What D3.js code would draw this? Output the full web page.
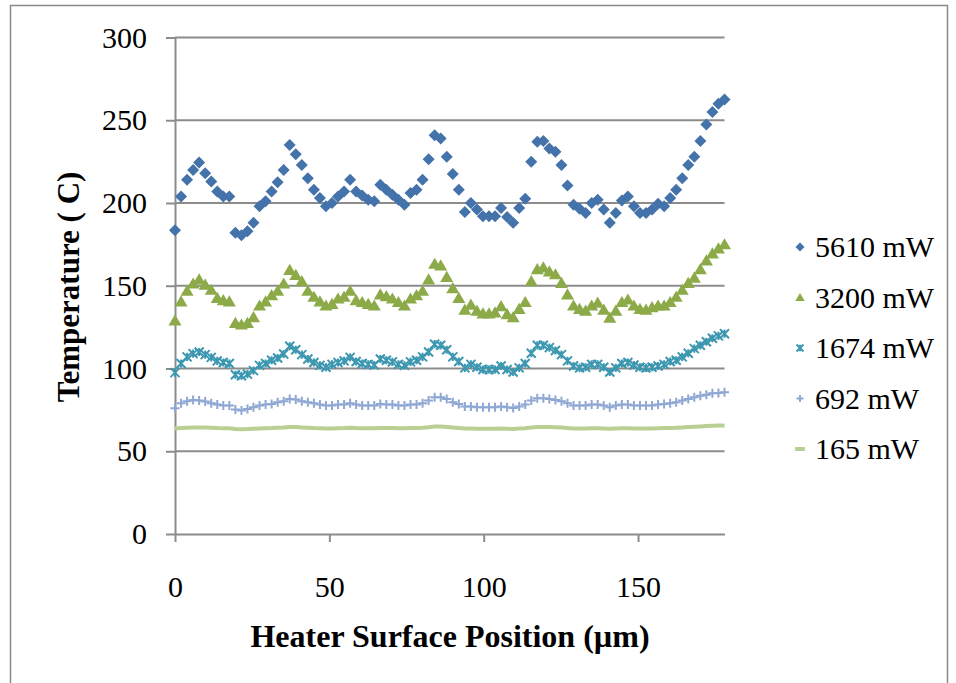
<!DOCTYPE html>
<html>
<head>
<meta charset="utf-8">
<script src="https://cdn.jsdelivr.net/npm/d3@7"></script>
<style>
  body { margin: 0; background: #fff; }
  svg text { font-family: "Liberation Serif", "Times New Roman", serif; fill: #000; }
</style>
</head>
<body>
<div id="chart"></div>
<script>
// Heater surface temperature profiles for five heater powers

// Positions along the heater surface (um)
const positions = [0, 1.96, 3.91, 5.87, 7.82, 9.78, 11.74, 13.69, 15.65, 17.6,
    19.56, 21.52, 23.47, 25.43, 27.38, 29.34, 31.3, 33.25, 35.21, 37.16,
    39.12, 41.08, 43.03, 44.99, 46.95, 48.9, 50.86, 52.81, 54.77, 56.73,
    58.68, 60.64, 62.59, 64.55, 66.51, 68.46, 70.42, 72.37, 74.33, 76.29,
    78.24, 80.2, 82.15, 84.11, 86.07, 88.02, 89.98, 91.93, 93.89, 95.85,
    97.8, 99.76, 101.71, 103.67, 105.63, 107.58, 109.54, 111.49, 113.45, 115.41,
    117.36, 119.32, 121.27, 123.23, 125.19, 127.14, 129.1, 131.05, 133.01, 134.97,
    136.92, 138.88, 140.84, 142.79, 144.75, 146.7, 148.66, 150.62, 152.57, 154.53,
    156.48, 158.44, 160.4, 162.35, 164.31, 166.26, 168.22, 170.18, 172.13, 174.09,
    176.04, 178];

// Temperatures (C)
const t5610 = [183.5, 204, 214, 220, 224.5, 218, 213, 207, 204, 204,
    182, 180.5, 183, 188, 198, 201, 207, 212.5, 220, 235,
    229.5, 223, 215, 208, 203, 198, 200, 204, 207, 214,
    207, 204.5, 202, 201, 211, 208, 205, 202, 199, 206,
    208, 214, 226.5, 241, 239, 228, 217.5, 208, 194.5, 200,
    196, 192, 192, 192, 197, 191.5, 188, 197, 202.5, 225,
    237, 237.5, 233, 231, 223, 210.5, 199, 196.5, 194, 200,
    202, 196, 188, 194, 201.5, 204, 198, 194, 194, 196,
    199.5, 198, 203, 208, 215, 223, 228, 237.5, 247.5, 255,
    260, 262.5];

const t3200 = [129, 140.5, 146.9, 151.3, 153.8, 150.6, 147.5, 142.6, 141.2, 140.5,
    127.5, 126.5, 127.5, 131, 138, 140.5, 144.3, 146.9, 151.3, 159.5,
    156.5, 152.7, 146.9, 143.3, 140.5, 138, 139, 142.2, 143.3, 146.9,
    141.2, 140.1, 139, 138, 144.7, 143.7, 142.2, 140.1, 138, 142.2,
    144.3, 146.9, 153.8, 163.2, 162.2, 155.3, 148.5, 142.6, 135.5, 138.5,
    134.9, 133.2, 133.2, 133.8, 137.6, 132.8, 131, 136, 140.1, 152.7,
    160, 161, 158.6, 156.9, 151.7, 144.7, 138, 136, 134.9, 138,
    139.7, 135.5, 130.7, 134.9, 140.1, 141.6, 138, 136, 135.5, 137,
    138, 138, 140.1, 143.3, 147.5, 151.7, 154.8, 160, 165.3, 169.5,
    172.5, 175];

const t1674 = [97.5, 103, 107, 109, 110, 108.4, 106.7, 104.6, 103.6, 103,
    96.2, 95.6, 96.6, 98.7, 101.9, 103, 105, 106.3, 108.8, 113.4,
    111.3, 108.4, 105.7, 103.6, 101.9, 100.8, 102.5, 103.6, 104.6, 106.7,
    104.2, 103, 102.5, 102.1, 105.7, 105, 104, 102.5, 101.9, 104,
    105, 107, 110, 114.7, 114, 111.3, 107, 104.2, 100.4, 102.5,
    100.8, 99.4, 99.4, 99.4, 101.5, 99.4, 97.9, 100.4, 103, 109.2,
    114, 114, 112.6, 110.9, 108.4, 104.6, 101.5, 100.4, 100.8, 102.5,
    102.5, 100.8, 97.9, 100.4, 103, 103.6, 102.1, 100.8, 100.4, 100.8,
    101.5, 102.5, 104.2, 105, 107, 109.2, 112, 114, 116.2, 118.3,
    119.7, 121];

const t692 = [76, 79, 80.2, 81, 80.6, 80, 79, 78.2, 77.6, 77.6,
    75.2, 74.6, 75.6, 76.6, 77.6, 78.2, 78.6, 79.6, 80.2, 81.6,
    81.2, 80.2, 79.6, 79, 78.2, 77.6, 77.6, 78.2, 78.2, 79,
    78.2, 77.6, 77.6, 77.6, 78.6, 78.2, 78.2, 77.6, 77.6, 78.2,
    78.2, 79, 80.6, 82.6, 82.6, 81.6, 79.6, 78.6, 77, 77,
    76.6, 76.6, 76.6, 76.6, 77, 76.6, 76.2, 77, 78.2, 80.6,
    82, 82, 81.6, 81, 80.2, 79, 77.6, 77.6, 77.6, 78.2,
    78.2, 77.6, 76.6, 77.6, 78.2, 78.2, 77.6, 77.6, 77.6, 77.6,
    78.2, 78.6, 79, 79.6, 80.6, 81.6, 82.6, 83.6, 84.2, 85,
    85.2, 85.6];

const t165 = [63.8, 64.0, 64.2, 64.4, 64.4, 64.3, 64.2, 64.0, 63.9, 63.9,
    63.4, 63.3, 63.4, 63.6, 63.8, 63.9, 64.0, 64.2, 64.4, 64.7,
    64.6, 64.4, 64.2, 64.0, 63.9, 63.8, 63.8, 63.9, 64.0, 64.2,
    64.0, 63.9, 63.9, 63.9, 64.1, 64.0, 64.0, 63.9, 63.9, 64.0,
    64.0, 64.2, 64.5, 64.9, 64.9, 64.6, 64.3, 64.0, 63.7, 63.7,
    63.6, 63.6, 63.6, 63.6, 63.7, 63.6, 63.5, 63.7, 63.9, 64.4,
    64.7, 64.7, 64.6, 64.5, 64.3, 64.0, 63.8, 63.8, 63.8, 63.9,
    63.9, 63.8, 63.6, 63.8, 63.9, 63.9, 63.8, 63.8, 63.8, 63.8,
    63.9, 64.0, 64.1, 64.2, 64.4, 64.6, 64.8, 65.0, 65.2, 65.4,
    65.5, 65.6];

const seriesNames = ["5610 mW", "3200 mW", "1674 mW", "692 mW", "165 mW"];
const xTickValues = [0, 50, 100, 150];
const yTickValues = [0, 50, 100, 150, 200, 250, 300];

// Size of the picture
const width = 956, height = 683;

const svg = d3.select("#chart")
    .append("svg")
    .attr("width", width)
    .attr("height", height);

// Outer frame of the chart area
svg.append("rect")
    .attr("x", 10.5)
    .attr("y", 5.5)
    .attr("width", 937)
    .attr("height", 700)
    .attr("fill", "none")
    .attr("stroke", "#8a8a8a")
    .attr("stroke-width", 1.5);

// Scales
const x = d3.scaleLinear().domain([0, 178]).range([175, 724.5]);
const y = d3.scaleLinear().domain([0, 300]).range([534, 37.5]);

const gridColor = "#8c8c8c";

// Horizontal gridlines
svg.append("g")
    .selectAll("line")
    .data(yTickValues.filter(d => d > 0))
    .join("line")
    .attr("x1", x(0))
    .attr("x2", x(178))
    .attr("y1", d => y(d))
    .attr("y2", d => y(d))
    .attr("stroke", gridColor)
    .attr("stroke-width", 2);

// Y axis
const yAxis = svg.append("g")
    .attr("transform", `translate(${x(0)},0)`)
    .call(d3.axisLeft(y).tickValues(yTickValues).tickSize(9).tickSizeOuter(0).tickPadding(19));

// X axis
const xAxis = svg.append("g")
    .attr("transform", `translate(0,${y(0)})`)
    .call(d3.axisBottom(x).tickValues(xTickValues).tickSize(8).tickSizeOuter(0).tickPadding(34));

[yAxis, xAxis].forEach(function (ax) {
    ax.select(".domain").attr("stroke", gridColor).attr("stroke-width", 2);
    ax.selectAll(".tick line").attr("stroke", gridColor).attr("stroke-width", 2);
    ax.selectAll(".tick text")
        .attr("fill", "#000")
        .style("font-family", "Liberation Serif, serif")
        .style("font-size", "30px");
});

// Axis titles
svg.append("text")
    .attr("x", 450)
    .attr("y", 647)
    .attr("text-anchor", "middle")
    .style("font-size", "32px")
    .style("font-weight", "bold")
    .text("Heater Surface Position (µm)");

svg.append("text")
    .attr("transform", "translate(79,287) rotate(-90)")
    .attr("text-anchor", "middle")
    .style("font-size", "31px")
    .style("font-weight", "bold")
    .text("Temperature ( C)");

// Series styles
const colors = ["#4472aa", "#8caa48", "#3c97b0", "#8fa7d3", "#b9cf94"];

const seriesData = [t5610, t3200, t1674, t692, t165].map(vals =>
    vals.map((v, i) => ({ x: positions[i], y: v })));

// 165 mW: plain thick line
svg.append("path")
    .datum(seriesData[4])
    .attr("fill", "none")
    .attr("stroke", colors[4])
    .attr("stroke-width", 4)
    .attr("d", d3.line().x(d => x(d.x)).y(d => y(d.y)));

// Marker drawing helpers
function drawPlus(g, px, py, s, col) {
    g.append("path")
        .attr("transform", `translate(${px},${py})`)
        .attr("d", `M${-s},0H${s}M0,${-s}V${s}`)
        .attr("stroke", col)
        .attr("stroke-width", 2)
        .attr("fill", "none");
}
function drawCross(g, px, py, s, col) {
    g.append("path")
        .attr("transform", `translate(${px},${py})`)
        .attr("d", `M${-s},${-s}L${s},${s}M${-s},${s}L${s},${-s}M0,${-s * 0.9}V${s * 0.9}`)
        .attr("stroke", col)
        .attr("stroke-width", 2)
        .attr("fill", "none");
}
function drawTriangle(g, px, py, s, col) {
    g.append("path")
        .attr("transform", `translate(${px},${py})`)
        .attr("d", `M0,${-s}L${s * 1.05},${s * 0.8}L${-s * 1.05},${s * 0.8}Z`)
        .attr("fill", col);
}
function drawDiamond(g, px, py, s, col) {
    g.append("path")
        .attr("transform", `translate(${px},${py})`)
        .attr("d", `M0,${-s}L${s},0L0,${s}L${-s},0Z`)
        .attr("fill", col);
}

const markerFns = [drawDiamond, drawTriangle, drawCross, drawPlus];
const markerSizes = [6, 6.2, 4.5, 4.5];

// Draw from bottom series to top series so order matches
[3, 2, 1, 0].forEach(function (k) {
    const g = svg.append("g").attr("class", "series" + k);
    seriesData[k].forEach(d => markerFns[k](g, x(d.x), y(d.y), markerSizes[k], colors[k]));
});

// Legend
const legend = svg.append("g").attr("class", "legend");
const legendY = [247, 297.5, 348, 398.5, 449];
seriesNames.forEach(function (name, k) {
    if (k < 4) {
        markerFns[k](legend, 800, legendY[k], k < 2 ? 4.5 : 3.5, colors[k]);
    } else {
        legend.append("line")
            .attr("x1", 795).attr("x2", 805)
            .attr("y1", legendY[k]).attr("y2", legendY[k])
            .attr("stroke", colors[k])
            .attr("stroke-width", 4);
    }
    legend.append("text")
        .attr("x", 815)
        .attr("y", legendY[k] + 10)
        .style("font-size", "30px")
        .text(name);
});
</script>
</body>
</html>
